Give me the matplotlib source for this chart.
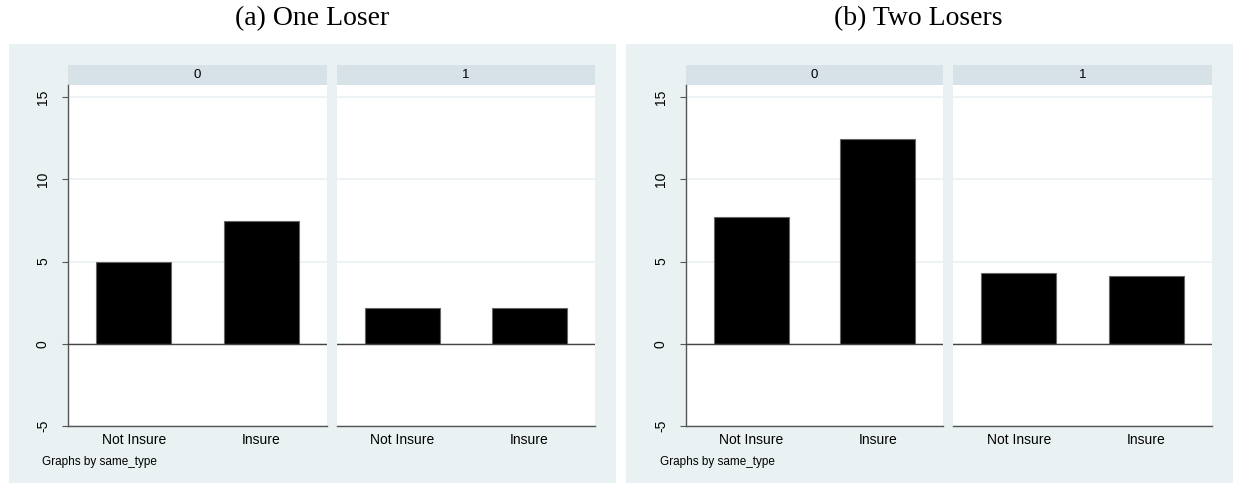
import matplotlib
matplotlib.use("Agg")
import matplotlib.pyplot as plt
from matplotlib.patches import Rectangle

# ---- data ----
categories = ["Not Insure", "Insure"]
facet_labels = ["0", "1"]
one_loser_0 = [4.95, 7.45]
one_loser_1 = [2.15, 2.20]
two_losers_0 = [7.70, 12.45]
two_losers_1 = [4.28, 4.14]
yticks = [-5, 0, 5, 10, 15]
titles = ["(a) One Loser", "(b) Two Losers"]
note = "Graphs by same_type"

W, H = 1233, 483
fig = plt.figure(figsize=(W / 100, H / 100), dpi=100, facecolor="white")

BG = "#EAF1F3"
STRIP = "#D6E2E8"
GRID = "#EAF1F3"
AXC = "#555555"
SANS = ["Liberation Sans", "DejaVu Sans"]
SERIF = ["Liberation Serif", "DejaVu Serif"]


def px_rect(x0, y0, x1, y1):
    return [x0 / W, 1 - y1 / H, (x1 - x0) / W, (y1 - y0) / H]


def draw_chart(bg_x0, bg_x1, panel_xs, series, title, title_x, note_x):
    # background
    r = px_rect(bg_x0, 44, bg_x1, 483)
    fig.patches.append(Rectangle((r[0], r[1]), r[2], r[3], transform=fig.transFigure,
                                 facecolor=BG, edgecolor="none", zorder=-3))
    fig.text(title_x / W, 1 - 19 / H, title, ha="center", va="center",
             fontsize=20, family=SERIF)
    for i, ((x0, x1), vals, lab) in enumerate(zip(panel_xs, series, facet_labels)):
        # strip
        s = px_rect(x0, 65, x1, 85)
        fig.patches.append(Rectangle((s[0], s[1]), s[2], s[3], transform=fig.transFigure,
                                     facecolor=STRIP, edgecolor="none", zorder=-2))
        fig.text((x0 + x1) / 2 / W, 1 - 75.5 / H, lab, ha="center", va="center",
                 fontsize=9.5, family=SANS)
        ax = fig.add_axes(px_rect(x0, 85, x1, 426))
        ax.set_facecolor("white")
        xs = list(range(1, len(categories) + 1))
        for y in yticks:
            ax.axhline(y, color=GRID, lw=1.2, zorder=0)
        ax.bar(xs, vals, width=0.59, color="black", edgecolor="#666666", lw=0.8, zorder=2)
        ax.axhline(0, color="#444444", lw=1.0, zorder=3)
        ax.set_xlim(0.484, 2.516)
        ax.set_ylim(-5, 15.73)
        ax.set_xticks(xs)
        ax.set_xticklabels(categories, fontsize=10, family=SANS)
        ax.tick_params(axis="x", length=0, pad=5)
        for sp in ["top", "right"]:
            ax.spines[sp].set_visible(False)
        ax.spines["bottom"].set_color(AXC)
        ax.spines["bottom"].set_linewidth(1.0)
        if i == 0:
            ax.spines["left"].set_color(AXC)
            ax.spines["left"].set_linewidth(1.0)
            ax.set_yticks(yticks)
            ax.set_yticklabels([str(t) for t in yticks], rotation=90, va="center",
                               fontsize=10, family=SANS)
            ax.tick_params(axis="y", length=4, width=0.8, color=AXC, pad=9)
        else:
            ax.spines["left"].set_visible(False)
            ax.set_yticks([])
    fig.text(note_x / W, 1 - 462 / H, note, ha="left", va="center",
             fontsize=8.5, family=SANS)


draw_chart(9, 616, [(68, 327), (337, 595)], [one_loser_0, one_loser_1],
           titles[0], 312, 42)
draw_chart(626, 1233, [(686, 943), (953, 1212)], [two_losers_0, two_losers_1],
           titles[1], 918, 660)

fig.savefig("out.png", dpi=100, facecolor="white")
